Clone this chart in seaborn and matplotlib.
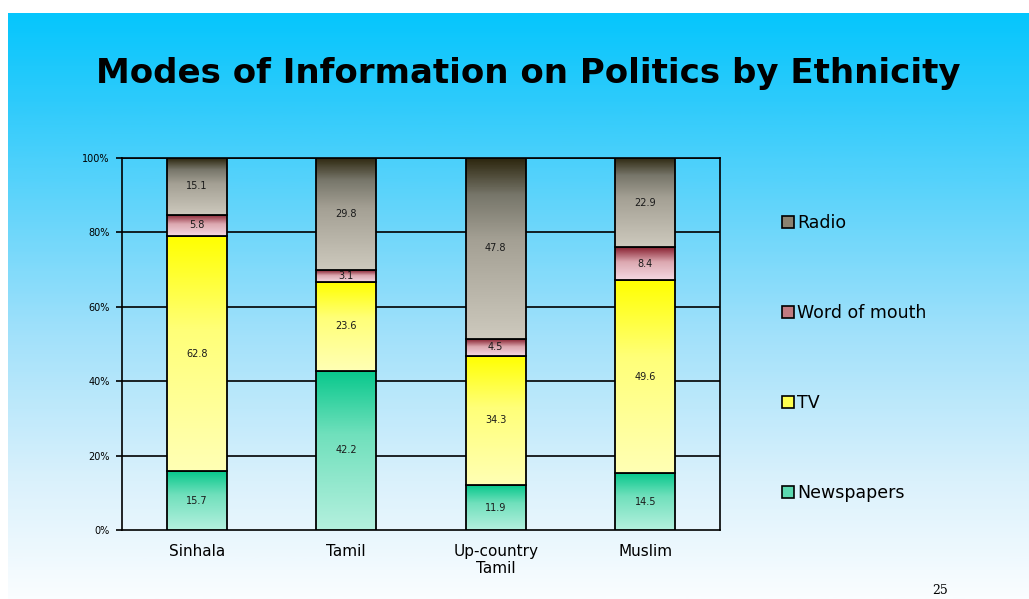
import numpy as np
import matplotlib
matplotlib.use("Agg")
import matplotlib.pyplot as plt
from matplotlib.colors import LinearSegmentedColormap
from matplotlib.patches import Patch
import seaborn as sns

# data (raw percentages; bars are drawn as 100% stacks)
categories = ['Sinhala', 'Tamil', 'Up-country\nTamil', 'Muslim']
newspapers = [15.7, 42.2, 11.9, 14.5]
tv = [62.8, 23.6, 34.3, 49.6]
word_of_mouth = [5.8, 3.1, 4.5, 8.4]
radio = [15.1, 29.8, 47.8, 22.9]
series_names = ['Newspapers', 'TV', 'Word of mouth', 'Radio']
y_ticks = [0, 20, 40, 60, 80, 100]

# gradient colours per series, from bottom (light) to top (dark)
grad_colors = {
    'Newspapers': [(0, '#b4f0de'), (0.6, '#70e0bc'), (1, '#08c88c')],
    'TV': [(0, '#ffffb4'), (0.6, '#ffff78'), (1, '#ffff00')],
    'Word of mouth': [(0, '#f4d8e2'), (0.55, '#dca8b0'), (1, '#882030')],
    'Radio': [(0, '#cdc9bd'), (0.55, '#a4a094'), (0.8, '#77766a'), (1, '#2e2810')],
}
legend_colors = {
    'Newspapers': '#5cd8b0',
    'TV': '#ffff50',
    'Word of mouth': '#c07a80',
    'Radio': '#8a8270',
}

sns.set_style("white")
plt.rcParams['font.family'] = ['DejaVu Sans']
plt.rcParams['text.color'] = 'black'
plt.rcParams['xtick.color'] = 'black'
plt.rcParams['ytick.color'] = 'black'

fig = plt.figure(figsize=(10.29, 5.99), dpi=100)
fig.patch.set_facecolor('white')

# slide background gradient
bg = fig.add_axes([0, 0, 1, 1], zorder=-10)
bg_cmap = LinearSegmentedColormap.from_list(
    'slide', [(0.0, '#06c6fd'), (0.15, '#2ecbfb'), (0.3, '#5ad3fb'),
              (0.55, '#a2e1fa'), (0.8, '#daf1fc'), (1.0, '#fafdff')])
bg.imshow(np.linspace(0, 1, 300)[:, None], cmap=bg_cmap, aspect='auto',
          extent=[8, 1029, 599, 13])
bg.set_xlim(0, 1029)
bg.set_ylim(599, 0)
bg.axis('off')

ax = fig.add_axes([122 / 1029, 1 - 530 / 599, 598 / 1029, 372 / 599])
ax.patch.set_alpha(0)

raw = np.array([newspapers, tv, word_of_mouth, radio], dtype=float)
pct = raw / raw.sum(axis=0) * 100
bottom = np.zeros(len(categories))

zo = 3
for name, vals, shares in zip(series_names, raw, pct):
    n_before = len(ax.patches)
    sns.barplot(x=categories, y=shares, bottom=bottom, color=legend_colors[name],
                width=0.4, edgecolor='black', linewidth=1.3, ax=ax)
    cmap = LinearSegmentedColormap.from_list(name, grad_colors[name])
    for p in ax.patches[n_before:]:
        x0, y0, w, h = p.get_x(), p.get_y(), p.get_width(), p.get_height()
        ax.imshow(np.linspace(0, 1, 100)[:, None], cmap=cmap, aspect='auto',
                  origin='lower', extent=[x0, x0 + w, y0, y0 + h], zorder=zo)
        p.set_facecolor('none')
        p.set_zorder(zo + 1)
    for i, (v, s) in enumerate(zip(vals, shares)):
        ax.text(i, bottom[i] + s / 2, f"{v:.1f}", ha='center', va='center',
                fontsize=7, color='#1a1a1a', zorder=10)
    bottom = bottom + shares
    zo += 2

ax.set_xlim(-0.5, len(categories) - 0.5)
ax.set_ylim(0, 100)
ax.set_yticks(y_ticks)
ax.set_yticklabels([f"{t}%" for t in y_ticks], fontsize=7)
ax.set_xticks(range(len(categories)))
ax.set_xticklabels(categories, fontsize=11)
ax.set_xticks(np.arange(-0.5, len(categories)), minor=True)
ax.tick_params(axis='x', which='major', length=0, pad=10)
ax.tick_params(axis='x', which='minor', direction='out', length=4, width=1.2,
               color='black')
ax.tick_params(axis='y', direction='out', length=4, width=1.2, pad=5,
               color='black', left=True)
for t in y_ticks[1:]:
    ax.axhline(t, color='black', linewidth=1.2, zorder=1)
for sp in ax.spines.values():
    sp.set_visible(True)
    sp.set_color('black')
    sp.set_linewidth(1.2)
ax.set_xlabel('')
ax.set_ylabel('')
ax.grid(False)

handles = [Patch(facecolor=legend_colors[n], edgecolor='black', linewidth=1.2,
                 label=n) for n in reversed(series_names)]
fig.legend(handles=handles, loc='center left',
           bbox_to_anchor=(766 / 1029, 1 - 358 / 599), frameon=False,
           fontsize=12.5, labelspacing=4.15, handlelength=0.7, handleheight=0.7,
           handletextpad=0.2)

fig.text(528 / 1029, 1 - 73 / 599, 'Modes of Information on Politics by Ethnicity',
         ha='center', va='center', fontsize=24.5, fontweight='bold')
fig.text(940 / 1029, 1 - 590 / 599, '25', ha='center', va='center',
         fontsize=9, family='DejaVu Serif')

fig.savefig('out.png', dpi=100)
